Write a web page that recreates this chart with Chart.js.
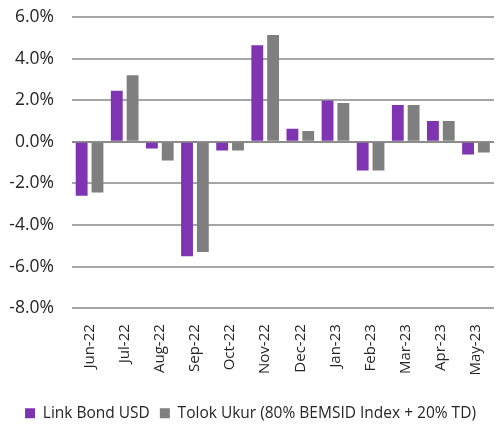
<!DOCTYPE html>
<html>
<head>
<meta charset="utf-8">
<script src="https://cdn.jsdelivr.net/npm/chart.js@4/dist/chart.umd.min.js"></script>
<style>
  html, body { margin: 0; padding: 0; background: #fff; }
  #wrap { width: 502px; height: 425px; position: relative; }
  #chart { position: relative; z-index: 1; }
  .gline { position: absolute; height: 2px; z-index: 0; }
</style>
</head>
<body>
<div id="wrap"><canvas id="chart" width="502" height="425"></canvas></div>
<script>
// data
const months = ['Jun-22', 'Jul-22', 'Aug-22', 'Sep-22', 'Oct-22', 'Nov-22',
                'Dec-22', 'Jan-23', 'Feb-23', 'Mar-23', 'Apr-23', 'May-23'];
const linkBond = [-2.6, 2.45, -0.32, -5.5, -0.42, 4.64, 0.63, 1.98, -1.38, 1.77, 1.0, -0.61];
const benchmark = [-2.44, 3.2, -0.9, -5.3, -0.42, 5.14, 0.52, 1.86, -1.38, 1.77, 1.0, -0.52];
const yMin = -8;
const yMax = 6;
const yStep = 2;

const font = "'Open Sans', 'Liberation Sans', sans-serif";

function lineColor(v) {
    return v === 0 ? '#8c8c8c' : '#a6a6a6';
}

const chart = new Chart(document.getElementById('chart'), {
    type: 'bar',
    data: {
        labels: months,
        datasets: [
            {
                label: 'Link Bond USD',
                data: linkBond,
                backgroundColor: '#7f35b2',
                categoryPercentage: 0.9,
                barPercentage: 0.75
            },
            {
                label: 'Tolok Ukur (80% BEMSID Index + 20% TD)',
                data: benchmark,
                backgroundColor: '#7f7f7f',
                categoryPercentage: 0.9,
                barPercentage: 0.75
            }
        ]
    },
    options: {
        responsive: false,
        animation: false,
        layout: { padding: { top: 17, right: 1, left: 0, bottom: -6 } },
        plugins: {
            legend: {
                position: 'bottom',
                labels: {
                    boxWidth: 10,
                    boxHeight: 10,
                    padding: 10,
                    color: '#262626',
                    font: { family: font, size: 15.5 }
                }
            },
            tooltip: { enabled: false }
        },
        scales: {
            y: {
                min: yMin,
                max: yMax,
                afterFit: function(axis) { axis.width = 72; },
                border: { color: 'rgba(0,0,0,0)' },
                grid: {
                    color: function(ctx) {
                        return ctx.tick ? lineColor(ctx.tick.value) : '#a6a6a6';
                    },
                    lineWidth: 2,
                    tickLength: 18,
                    tickColor: 'rgba(0,0,0,0)'
                },
                ticks: {
                    stepSize: yStep,
                    padding: 0,
                    color: '#262626',
                    font: { family: font, size: 17.5 },
                    callback: function(value) {
                        return value.toFixed(1) + '%';
                    }
                }
            },
            x: {
                afterFit: function(axis) { axis.height += 12; },
                border: { color: 'rgba(0,0,0,0)' },
                grid: { display: false },
                ticks: {
                    minRotation: 90,
                    maxRotation: 90,
                    padding: 8,
                    color: '#262626',
                    font: { family: font, size: 15 }
                }
            }
        }
    }
});

// gridlines placed from the y scale, behind the (transparent) canvas
const wrap = document.getElementById('wrap');
const area = chart.chartArea;
const yScale = chart.scales.y;
yScale.ticks.forEach(function(t) {
    const py = Math.round(yScale.getPixelForValue(t.value));
    const d = document.createElement('div');
    d.className = 'gline';
    d.style.left = Math.round(area.left) + 'px';
    d.style.width = Math.round(area.right - area.left) + 'px';
    d.style.top = (py - 1) + 'px';
    d.style.background = lineColor(t.value);
    wrap.appendChild(d);
});
</script>
</body>
</html>
